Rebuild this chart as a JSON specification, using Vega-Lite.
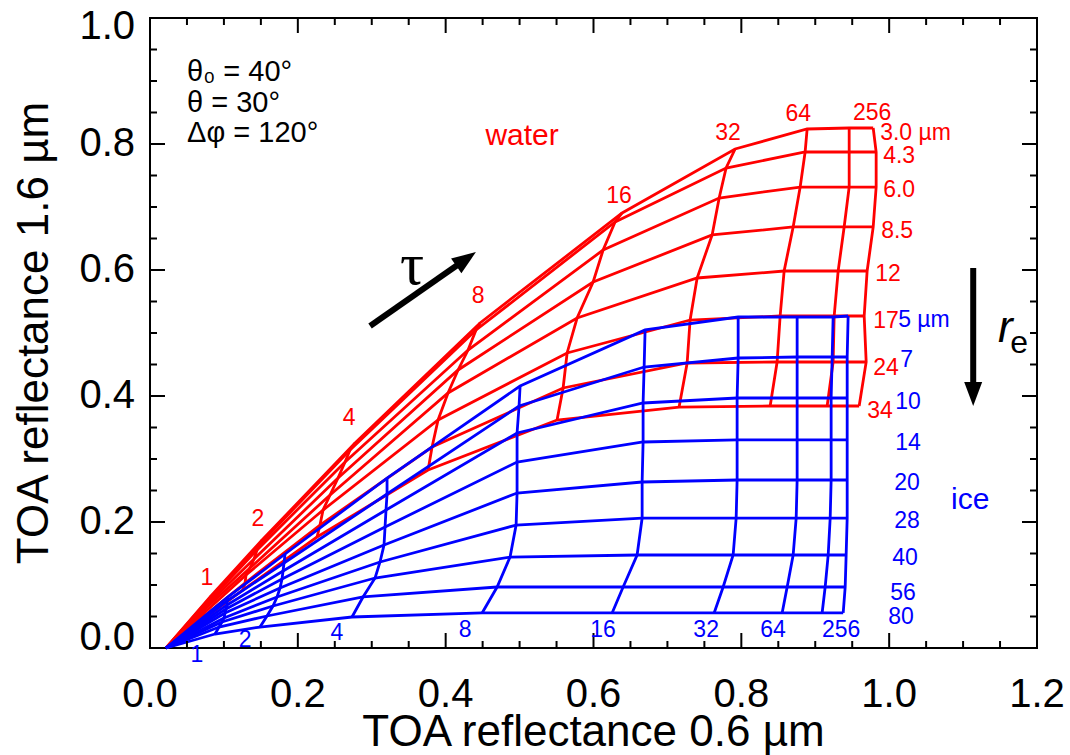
{
"$schema":"https://vega.github.io/schema/vega-lite/v6.json",
"width":887,"height":630,"autosize":"none",
"padding":{"left":150,"top":18,"right":33,"bottom":107},
"background":"white",
"config":{"view":{"stroke":"#000000","strokeWidth":2}},
"datasets":{
"grid":[
{"p":"w","r":3,"t":0,"x":0.0217,"y":0},{"p":"w","r":3,"t":1,"x":0.0825,"y":0.0825},{"p":"w","r":3,"t":2,"x":0.1516,"y":0.1714},{"p":"w","r":3,"t":4,"x":0.2774,"y":0.3254},{"p":"w","r":3,"t":8,"x":0.4465,"y":0.5159},{"p":"w","r":3,"t":16,"x":0.6387,"y":0.6905},{"p":"w","r":3,"t":32,"x":0.7916,"y":0.7921},{"p":"w","r":3,"t":64,"x":0.889,"y":0.8238},{"p":"w","r":3,"t":128,"x":0.9459,"y":0.8254},{"p":"w","r":3,"t":256,"x":0.9784,"y":0.8254},
{"p":"w","r":4.3,"t":0,"x":0.0217,"y":0},{"p":"w","r":4.3,"t":1,"x":0.0812,"y":0.0794},{"p":"w","r":4.3,"t":2,"x":0.1488,"y":0.1651},{"p":"w","r":4.3,"t":4,"x":0.2706,"y":0.3143},{"p":"w","r":4.3,"t":8,"x":0.4411,"y":0.5048},{"p":"w","r":4.3,"t":16,"x":0.6292,"y":0.6762},{"p":"w","r":4.3,"t":32,"x":0.7794,"y":0.7619},{"p":"w","r":4.3,"t":64,"x":0.8863,"y":0.7873},{"p":"w","r":4.3,"t":128,"x":0.9459,"y":0.7873},{"p":"w","r":4.3,"t":256,"x":0.9824,"y":0.7873},
{"p":"w","r":6,"t":0,"x":0.0217,"y":0},{"p":"w","r":6,"t":1,"x":0.0798,"y":0.0746},{"p":"w","r":6,"t":2,"x":0.1448,"y":0.1556},{"p":"w","r":6,"t":4,"x":0.2639,"y":0.2952},{"p":"w","r":6,"t":8,"x":0.4303,"y":0.473},{"p":"w","r":6,"t":16,"x":0.613,"y":0.6317},{"p":"w","r":6,"t":32,"x":0.77,"y":0.7143},{"p":"w","r":6,"t":64,"x":0.8796,"y":0.7317},{"p":"w","r":6,"t":128,"x":0.9459,"y":0.7317},{"p":"w","r":6,"t":256,"x":0.9824,"y":0.7317},
{"p":"w","r":8.5,"t":0,"x":0.0217,"y":0},{"p":"w","r":8.5,"t":1,"x":0.0771,"y":0.0683},{"p":"w","r":8.5,"t":2,"x":0.1407,"y":0.1413},{"p":"w","r":8.5,"t":4,"x":0.2544,"y":0.2698},{"p":"w","r":8.5,"t":8,"x":0.4168,"y":0.4413},{"p":"w","r":8.5,"t":16,"x":0.5995,"y":0.581},{"p":"w","r":8.5,"t":32,"x":0.7605,"y":0.6556},{"p":"w","r":8.5,"t":64,"x":0.8701,"y":0.6683},{"p":"w","r":8.5,"t":128,"x":0.9391,"y":0.6683},{"p":"w","r":8.5,"t":256,"x":0.9784,"y":0.6683},
{"p":"w","r":12,"t":0,"x":0.0217,"y":0},{"p":"w","r":12,"t":1,"x":0.0744,"y":0.0619},{"p":"w","r":12,"t":2,"x":0.1353,"y":0.127},{"p":"w","r":12,"t":4,"x":0.2436,"y":0.2429},{"p":"w","r":12,"t":8,"x":0.4032,"y":0.4048},{"p":"w","r":12,"t":16,"x":0.5778,"y":0.5238},{"p":"w","r":12,"t":32,"x":0.7402,"y":0.5873},{"p":"w","r":12,"t":64,"x":0.8579,"y":0.5984},{"p":"w","r":12,"t":128,"x":0.931,"y":0.5984},{"p":"w","r":12,"t":256,"x":0.9702,"y":0.5984},
{"p":"w","r":17,"t":0,"x":0.0217,"y":0},{"p":"w","r":17,"t":1,"x":0.0731,"y":0.0556},{"p":"w","r":17,"t":2,"x":0.1299,"y":0.1159},{"p":"w","r":17,"t":4,"x":0.2341,"y":0.219},{"p":"w","r":17,"t":8,"x":0.3897,"y":0.3619},{"p":"w","r":17,"t":16,"x":0.5643,"y":0.4683},{"p":"w","r":17,"t":32,"x":0.7307,"y":0.5206},{"p":"w","r":17,"t":64,"x":0.8525,"y":0.527},{"p":"w","r":17,"t":128,"x":0.9256,"y":0.527},{"p":"w","r":17,"t":256,"x":0.9662,"y":0.527},
{"p":"w","r":24,"t":0,"x":0.0217,"y":0},{"p":"w","r":24,"t":1,"x":0.0717,"y":0.0492},{"p":"w","r":24,"t":2,"x":0.1286,"y":0.1032},{"p":"w","r":24,"t":4,"x":0.23,"y":0.1952},{"p":"w","r":24,"t":8,"x":0.3816,"y":0.319},{"p":"w","r":24,"t":16,"x":0.5589,"y":0.4127},{"p":"w","r":24,"t":32,"x":0.7267,"y":0.4524},{"p":"w","r":24,"t":64,"x":0.8484,"y":0.454},{"p":"w","r":24,"t":128,"x":0.9242,"y":0.454},{"p":"w","r":24,"t":256,"x":0.9689,"y":0.454},
{"p":"w","r":34,"t":0,"x":0.0217,"y":0},{"p":"w","r":34,"t":1,"x":0.0704,"y":0.0444},{"p":"w","r":34,"t":2,"x":0.1258,"y":0.0921},{"p":"w","r":34,"t":4,"x":0.226,"y":0.1762},{"p":"w","r":34,"t":8,"x":0.3762,"y":0.2825},{"p":"w","r":34,"t":16,"x":0.5507,"y":0.3619},{"p":"w","r":34,"t":32,"x":0.7158,"y":0.3825},{"p":"w","r":34,"t":64,"x":0.839,"y":0.3841},{"p":"w","r":34,"t":128,"x":0.9161,"y":0.3841},{"p":"w","r":34,"t":256,"x":0.9594,"y":0.3841},
{"p":"i","r":5,"t":0,"x":0.0217,"y":0},{"p":"i","r":5,"t":1,"x":0.1055,"y":0.081},{"p":"i","r":5,"t":2,"x":0.1827,"y":0.1492},{"p":"i","r":5,"t":4,"x":0.3207,"y":0.2698},{"p":"i","r":5,"t":8,"x":0.5007,"y":0.4159},{"p":"i","r":5,"t":16,"x":0.6698,"y":0.5048},{"p":"i","r":5,"t":32,"x":0.7957,"y":0.5254},{"p":"i","r":5,"t":64,"x":0.8755,"y":0.5254},{"p":"i","r":5,"t":128,"x":0.9242,"y":0.5254},{"p":"i","r":5,"t":256,"x":0.9445,"y":0.527},
{"p":"i","r":7,"t":0,"x":0.0217,"y":0},{"p":"i","r":7,"t":1,"x":0.1042,"y":0.0746},{"p":"i","r":7,"t":2,"x":0.1813,"y":0.1349},{"p":"i","r":7,"t":4,"x":0.3207,"y":0.2444},{"p":"i","r":7,"t":8,"x":0.4993,"y":0.3841},{"p":"i","r":7,"t":16,"x":0.6685,"y":0.446},{"p":"i","r":7,"t":32,"x":0.7957,"y":0.4603},{"p":"i","r":7,"t":64,"x":0.8755,"y":0.4619},{"p":"i","r":7,"t":128,"x":0.9229,"y":0.4619},{"p":"i","r":7,"t":256,"x":0.9432,"y":0.4619},
{"p":"i","r":10,"t":0,"x":0.0217,"y":0},{"p":"i","r":10,"t":1,"x":0.1042,"y":0.0683},{"p":"i","r":10,"t":2,"x":0.18,"y":0.1222},{"p":"i","r":10,"t":4,"x":0.3193,"y":0.219},{"p":"i","r":10,"t":8,"x":0.4966,"y":0.3413},{"p":"i","r":10,"t":16,"x":0.6671,"y":0.3889},{"p":"i","r":10,"t":32,"x":0.7943,"y":0.3968},{"p":"i","r":10,"t":64,"x":0.8755,"y":0.3968},{"p":"i","r":10,"t":128,"x":0.9215,"y":0.3968},{"p":"i","r":10,"t":256,"x":0.9432,"y":0.3968},
{"p":"i","r":14,"t":0,"x":0.0217,"y":0},{"p":"i","r":14,"t":1,"x":0.1028,"y":0.0619},{"p":"i","r":14,"t":2,"x":0.1786,"y":0.1095},{"p":"i","r":14,"t":4,"x":0.318,"y":0.1921},{"p":"i","r":14,"t":8,"x":0.4966,"y":0.2952},{"p":"i","r":14,"t":16,"x":0.6671,"y":0.327},{"p":"i","r":14,"t":32,"x":0.7943,"y":0.3302},{"p":"i","r":14,"t":64,"x":0.8755,"y":0.3302},{"p":"i","r":14,"t":128,"x":0.9215,"y":0.3302},{"p":"i","r":14,"t":256,"x":0.9432,"y":0.3302},
{"p":"i","r":20,"t":0,"x":0.0217,"y":0},{"p":"i","r":20,"t":1,"x":0.1015,"y":0.0556},{"p":"i","r":20,"t":2,"x":0.1759,"y":0.0952},{"p":"i","r":20,"t":4,"x":0.3166,"y":0.1635},{"p":"i","r":20,"t":8,"x":0.4966,"y":0.246},{"p":"i","r":20,"t":16,"x":0.6658,"y":0.2635},{"p":"i","r":20,"t":32,"x":0.7943,"y":0.2667},{"p":"i","r":20,"t":64,"x":0.8755,"y":0.2667},{"p":"i","r":20,"t":128,"x":0.9215,"y":0.2667},{"p":"i","r":20,"t":256,"x":0.9432,"y":0.2667},
{"p":"i","r":28,"t":0,"x":0.0217,"y":0},{"p":"i","r":28,"t":1,"x":0.1001,"y":0.0476},{"p":"i","r":28,"t":2,"x":0.1719,"y":0.081},{"p":"i","r":28,"t":4,"x":0.3112,"y":0.1365},{"p":"i","r":28,"t":8,"x":0.4953,"y":0.1952},{"p":"i","r":28,"t":16,"x":0.6658,"y":0.2063},{"p":"i","r":28,"t":32,"x":0.793,"y":0.2063},{"p":"i","r":28,"t":64,"x":0.8742,"y":0.2063},{"p":"i","r":28,"t":128,"x":0.9202,"y":0.2063},{"p":"i","r":28,"t":256,"x":0.9432,"y":0.2063},
{"p":"i","r":40,"t":0,"x":0.0217,"y":0},{"p":"i","r":40,"t":1,"x":0.0974,"y":0.0413},{"p":"i","r":40,"t":2,"x":0.1664,"y":0.0667},{"p":"i","r":40,"t":4,"x":0.3045,"y":0.1111},{"p":"i","r":40,"t":8,"x":0.4871,"y":0.1444},{"p":"i","r":40,"t":16,"x":0.659,"y":0.1476},{"p":"i","r":40,"t":32,"x":0.7889,"y":0.1476},{"p":"i","r":40,"t":64,"x":0.8701,"y":0.1476},{"p":"i","r":40,"t":128,"x":0.9175,"y":0.1476},{"p":"i","r":40,"t":256,"x":0.9418,"y":0.1476},
{"p":"i","r":56,"t":0,"x":0.0217,"y":0},{"p":"i","r":56,"t":1,"x":0.0934,"y":0.0333},{"p":"i","r":56,"t":2,"x":0.1583,"y":0.0508},{"p":"i","r":56,"t":4,"x":0.2882,"y":0.081},{"p":"i","r":56,"t":8,"x":0.4696,"y":0.0968},{"p":"i","r":56,"t":16,"x":0.6401,"y":0.0968},{"p":"i","r":56,"t":32,"x":0.7754,"y":0.0968},{"p":"i","r":56,"t":64,"x":0.862,"y":0.0968},{"p":"i","r":56,"t":128,"x":0.9134,"y":0.0968},{"p":"i","r":56,"t":256,"x":0.9405,"y":0.0968},
{"p":"i","r":80,"t":0,"x":0.0217,"y":0},{"p":"i","r":80,"t":1,"x":0.088,"y":0.0222},{"p":"i","r":80,"t":2,"x":0.1488,"y":0.0333},{"p":"i","r":80,"t":4,"x":0.2733,"y":0.0492},{"p":"i","r":80,"t":8,"x":0.4493,"y":0.0556},{"p":"i","r":80,"t":16,"x":0.6252,"y":0.0556},{"p":"i","r":80,"t":32,"x":0.7632,"y":0.0556},{"p":"i","r":80,"t":64,"x":0.8552,"y":0.0556},{"p":"i","r":80,"t":128,"x":0.9093,"y":0.0556},{"p":"i","r":80,"t":256,"x":0.9378,"y":0.0556}
],
"xt":[
{"v":0,"k":"M"},{"v":0.05,"k":"m"},{"v":0.1,"k":"m"},{"v":0.15,"k":"m"},{"v":0.2,"k":"M"},{"v":0.25,"k":"m"},{"v":0.3,"k":"m"},{"v":0.35,"k":"m"},{"v":0.4,"k":"M"},{"v":0.45,"k":"m"},{"v":0.5,"k":"m"},{"v":0.55,"k":"m"},{"v":0.6,"k":"M"},{"v":0.65,"k":"m"},{"v":0.7,"k":"m"},{"v":0.75,"k":"m"},{"v":0.8,"k":"M"},{"v":0.85,"k":"m"},{"v":0.9,"k":"m"},{"v":0.95,"k":"m"},{"v":1,"k":"M"},{"v":1.05,"k":"m"},{"v":1.1,"k":"m"},{"v":1.15,"k":"m"},{"v":1.2,"k":"M"}
],
"yt":[
{"v":0,"k":"M"},{"v":0.05,"k":"m"},{"v":0.1,"k":"m"},{"v":0.15,"k":"m"},{"v":0.2,"k":"M"},{"v":0.25,"k":"m"},{"v":0.3,"k":"m"},{"v":0.35,"k":"m"},{"v":0.4,"k":"M"},{"v":0.45,"k":"m"},{"v":0.5,"k":"m"},{"v":0.55,"k":"m"},{"v":0.6,"k":"M"},{"v":0.65,"k":"m"},{"v":0.7,"k":"m"},{"v":0.75,"k":"m"},{"v":0.8,"k":"M"},{"v":0.85,"k":"m"},{"v":0.9,"k":"m"},{"v":0.95,"k":"m"},{"v":1,"k":"M"}
],
"txt":[
{"g":"tw","s":"1","x":0.0771,"y":0.1111},{"g":"tw","s":"2","x":0.1461,"y":0.2048},{"g":"tw","s":"4","x":0.2693,"y":0.3651},{"g":"tw","s":"8","x":0.4438,"y":0.5587},{"g":"tw","s":"16","x":0.6346,"y":0.7175},{"g":"tw","s":"32","x":0.7821,"y":0.8175},{"g":"tw","s":"64","x":0.8769,"y":0.8476},{"g":"tw","s":"256","x":0.977,"y":0.8492},
{"g":"rw","s":"3.0 µm","x":0.9878,"y":0.8175},{"g":"rw","s":"4.3","x":0.9919,"y":0.781},{"g":"rw","s":"6.0","x":0.9919,"y":0.727},{"g":"rw","s":"8.5","x":0.9892,"y":0.6619},{"g":"rw","s":"12","x":0.9811,"y":0.5937},{"g":"rw","s":"17","x":0.9784,"y":0.519},{"g":"rw","s":"24","x":0.9784,"y":0.4444},{"g":"rw","s":"34","x":0.9702,"y":0.3762},
{"g":"ri","s":"5 µm","x":1.0122,"y":0.5206},{"g":"ri","s":"7","x":1.0149,"y":0.4571},{"g":"ri","s":"10","x":1.0081,"y":0.3905},{"g":"ri","s":"14","x":1.0081,"y":0.3254},{"g":"ri","s":"20","x":1.0068,"y":0.2619},{"g":"ri","s":"28","x":1.0068,"y":0.2016},{"g":"ri","s":"40","x":1.0041,"y":0.1429},{"g":"ri","s":"56","x":1.0014,"y":0.0873},{"g":"ri","s":"80","x":0.9986,"y":0.0492},
{"g":"ti","s":"1","x":0.0636,"y":-0.0111},{"g":"ti","s":"2","x":0.1286,"y":0.0127},{"g":"ti","s":"4","x":0.253,"y":0.0238},{"g":"ti","s":"8","x":0.4263,"y":0.0286},{"g":"ti","s":"16","x":0.613,"y":0.0286},{"g":"ti","s":"32","x":0.7524,"y":0.0286},{"g":"ti","s":"64","x":0.843,"y":0.0286},{"g":"ti","s":"256","x":0.935,"y":0.0286},
{"g":"ann","s":"θ₀ = 40°","x":0.0501,"y":0.9143},{"g":"ann","s":"θ = 30°","x":0.0501,"y":0.8651},{"g":"ann","s":"Δφ = 120°","x":0.0501,"y":0.8175},
{"g":"water","s":"water","x":0.5034,"y":0.8127},
{"g":"ice","s":"ice","x":1.1096,"y":0.2349},
{"g":"tau","s":"τ","x":0.3545,"y":0.6063},
{"g":"r","s":"r","x":1.157,"y":0.5063},
{"g":"e","s":"e","x":1.1759,"y":0.4841},
{"g":"xtitle","s":"TOA reflectance 0.6 µm","x":0.6,"y":0},
{"g":"ytitle","s":"TOA reflectance 1.6 µm","x":0,"y":0.5}
],
"arr":[
{"a":"tau","x":0.2977,"y":0.5111,"x2":0.4276,"y2":0.6175},
{"a":"re","x":1.1137,"y":0.6032,"x2":1.1137,"y2":0.4032}
]
},
"layer":[
{"data":{"name":"grid"},"transform":[{"filter":"datum.p=='w'"}],
 "mark":{"type":"line","color":"#ff0000","strokeWidth":2.8},
 "encoding":{
  "x":{"field":"x","type":"quantitative","scale":{"domain":[0,1.2],"nice":false,"zero":false},"axis":null},
  "y":{"field":"y","type":"quantitative","scale":{"domain":[0,1],"nice":false,"zero":false},"axis":null},
  "detail":{"field":"r","type":"nominal"},
  "order":{"field":"t","type":"quantitative"}}},
{"data":{"name":"grid"},"transform":[{"filter":"datum.p=='w' && datum.t>0"}],
 "mark":{"type":"line","color":"#ff0000","strokeWidth":2.8},
 "encoding":{
  "x":{"field":"x","type":"quantitative","scale":{"domain":[0,1.2],"nice":false,"zero":false},"axis":null},
  "y":{"field":"y","type":"quantitative","scale":{"domain":[0,1],"nice":false,"zero":false},"axis":null},
  "detail":{"field":"t","type":"nominal"},
  "order":{"field":"r","type":"quantitative"}}},
{"data":{"name":"grid"},"transform":[{"filter":"datum.p=='i'"}],
 "mark":{"type":"line","color":"#0000ff","strokeWidth":2.8},
 "encoding":{
  "x":{"field":"x","type":"quantitative","scale":{"domain":[0,1.2],"nice":false,"zero":false},"axis":null},
  "y":{"field":"y","type":"quantitative","scale":{"domain":[0,1],"nice":false,"zero":false},"axis":null},
  "detail":{"field":"r","type":"nominal"},
  "order":{"field":"t","type":"quantitative"}}},
{"data":{"name":"grid"},"transform":[{"filter":"datum.p=='i' && datum.t>0"}],
 "mark":{"type":"line","color":"#0000ff","strokeWidth":2.8},
 "encoding":{
  "x":{"field":"x","type":"quantitative","scale":{"domain":[0,1.2],"nice":false,"zero":false},"axis":null},
  "y":{"field":"y","type":"quantitative","scale":{"domain":[0,1],"nice":false,"zero":false},"axis":null},
  "detail":{"field":"t","type":"nominal"},
  "order":{"field":"r","type":"quantitative"}}},
{"data":{"name":"xt"},
 "mark":{"type":"tick","orient":"vertical","thickness":2,"color":"#000000","opacity":1,"clip":true},
 "encoding":{"x":{"field":"v","type":"quantitative","scale":{"domain":[0,1.2],"nice":false,"zero":false},"axis":null},"y":{"datum":0,"type":"quantitative","scale":{"domain":[0,1],"nice":false,"zero":false},"axis":null},"size":{"field":"k","type":"nominal","scale":{"domain":["M","m"],"range":[30,14]},"legend":null}}},
{"data":{"name":"xt"},
 "mark":{"type":"tick","orient":"vertical","thickness":2,"color":"#000000","opacity":1,"clip":true},
 "encoding":{"x":{"field":"v","type":"quantitative","scale":{"domain":[0,1.2],"nice":false,"zero":false},"axis":null},"y":{"datum":1,"type":"quantitative","scale":{"domain":[0,1],"nice":false,"zero":false},"axis":null},"size":{"field":"k","type":"nominal","scale":{"domain":["M","m"],"range":[30,14]},"legend":null}}},
{"data":{"name":"yt"},
 "mark":{"type":"tick","orient":"horizontal","thickness":2,"color":"#000000","opacity":1,"clip":true},
 "encoding":{"y":{"field":"v","type":"quantitative","scale":{"domain":[0,1],"nice":false,"zero":false},"axis":null},"x":{"datum":0,"type":"quantitative","scale":{"domain":[0,1.2],"nice":false,"zero":false},"axis":null},"size":{"field":"k","type":"nominal","scale":{"domain":["M","m"],"range":[30,14]},"legend":null}}},
{"data":{"name":"yt"},
 "mark":{"type":"tick","orient":"horizontal","thickness":2,"color":"#000000","opacity":1,"clip":true},
 "encoding":{"y":{"field":"v","type":"quantitative","scale":{"domain":[0,1],"nice":false,"zero":false},"axis":null},"x":{"datum":1.2,"type":"quantitative","scale":{"domain":[0,1.2],"nice":false,"zero":false},"axis":null},"size":{"field":"k","type":"nominal","scale":{"domain":["M","m"],"range":[30,14]},"legend":null}}},
{"data":{"name":"xt"},"transform":[{"filter":"datum.k=='M'"}],
 "mark":{"type":"text","color":"#000000","font":"Liberation Sans","fontSize":40,"align":"center","baseline":"alphabetic","dy":59},
 "encoding":{"x":{"field":"v","type":"quantitative","scale":{"domain":[0,1.2],"nice":false,"zero":false},"axis":null},"y":{"datum":0,"type":"quantitative","scale":{"domain":[0,1],"nice":false,"zero":false},"axis":null},"text":{"field":"v","type":"quantitative","format":".1f"}}},
{"data":{"name":"yt"},"transform":[{"filter":"datum.k=='M' && datum.v>0 && datum.v<1"}],
 "mark":{"type":"text","color":"#000000","font":"Liberation Sans","fontSize":40,"align":"right","baseline":"middle","dx":-15},
 "encoding":{"y":{"field":"v","type":"quantitative","scale":{"domain":[0,1],"nice":false,"zero":false},"axis":null},"x":{"datum":0,"type":"quantitative","scale":{"domain":[0,1.2],"nice":false,"zero":false},"axis":null},"text":{"field":"v","type":"quantitative","format":".1f"}}},
{"data":{"name":"yt"},"transform":[{"filter":"datum.v==1"}],
 "mark":{"type":"text","color":"#000000","font":"Liberation Sans","fontSize":40,"align":"right","baseline":"middle","dx":-15,"dy":9},
 "encoding":{"y":{"field":"v","type":"quantitative","scale":{"domain":[0,1],"nice":false,"zero":false},"axis":null},"x":{"datum":0,"type":"quantitative","scale":{"domain":[0,1.2],"nice":false,"zero":false},"axis":null},"text":{"field":"v","type":"quantitative","format":".1f"}}},
{"data":{"name":"yt"},"transform":[{"filter":"datum.v==0"}],
 "mark":{"type":"text","color":"#000000","font":"Liberation Sans","fontSize":40,"align":"right","baseline":"middle","dx":-15,"dy":-10},
 "encoding":{"y":{"field":"v","type":"quantitative","scale":{"domain":[0,1],"nice":false,"zero":false},"axis":null},"x":{"datum":0,"type":"quantitative","scale":{"domain":[0,1.2],"nice":false,"zero":false},"axis":null},"text":{"field":"v","type":"quantitative","format":".1f"}}},
{"data":{"name":"txt"},"transform":[{"filter":"datum.g=='xtitle'"}],
 "mark":{"type":"text","color":"#000000","font":"Liberation Sans","fontSize":44,"align":"center","baseline":"alphabetic","dy":98},
 "encoding":{"x":{"field":"x","type":"quantitative","scale":{"domain":[0,1.2],"nice":false,"zero":false},"axis":null},"y":{"field":"y","type":"quantitative","scale":{"domain":[0,1],"nice":false,"zero":false},"axis":null},"text":{"field":"s"}}},
{"data":{"name":"txt"},"transform":[{"filter":"datum.g=='ytitle'"}],
 "mark":{"type":"text","color":"#000000","font":"Liberation Sans","fontSize":44,"align":"center","baseline":"alphabetic","angle":270,"dy":-102},
 "encoding":{"x":{"field":"x","type":"quantitative","scale":{"domain":[0,1.2],"nice":false,"zero":false},"axis":null},"y":{"field":"y","type":"quantitative","scale":{"domain":[0,1],"nice":false,"zero":false},"axis":null},"text":{"field":"s"}}},
{"data":{"name":"txt"},"transform":[{"filter":"datum.g=='tw'"}],
 "mark":{"type":"text","color":"#ff0000","font":"Liberation Sans","fontSize":23,"align":"center","baseline":"middle"},
 "encoding":{"x":{"field":"x","type":"quantitative","scale":{"domain":[0,1.2],"nice":false,"zero":false},"axis":null},"y":{"field":"y","type":"quantitative","scale":{"domain":[0,1],"nice":false,"zero":false},"axis":null},"text":{"field":"s"}}},
{"data":{"name":"txt"},"transform":[{"filter":"datum.g=='rw'"}],
 "mark":{"type":"text","color":"#ff0000","font":"Liberation Sans","fontSize":23,"align":"left","baseline":"middle"},
 "encoding":{"x":{"field":"x","type":"quantitative","scale":{"domain":[0,1.2],"nice":false,"zero":false},"axis":null},"y":{"field":"y","type":"quantitative","scale":{"domain":[0,1],"nice":false,"zero":false},"axis":null},"text":{"field":"s"}}},
{"data":{"name":"txt"},"transform":[{"filter":"datum.g=='ri'"}],
 "mark":{"type":"text","color":"#0000ff","font":"Liberation Sans","fontSize":23,"align":"left","baseline":"middle"},
 "encoding":{"x":{"field":"x","type":"quantitative","scale":{"domain":[0,1.2],"nice":false,"zero":false},"axis":null},"y":{"field":"y","type":"quantitative","scale":{"domain":[0,1],"nice":false,"zero":false},"axis":null},"text":{"field":"s"}}},
{"data":{"name":"txt"},"transform":[{"filter":"datum.g=='ti'"}],
 "mark":{"type":"text","color":"#0000ff","font":"Liberation Sans","fontSize":23,"align":"center","baseline":"middle"},
 "encoding":{"x":{"field":"x","type":"quantitative","scale":{"domain":[0,1.2],"nice":false,"zero":false},"axis":null},"y":{"field":"y","type":"quantitative","scale":{"domain":[0,1],"nice":false,"zero":false},"axis":null},"text":{"field":"s"}}},
{"data":{"name":"txt"},"transform":[{"filter":"datum.g=='ann'"}],
 "mark":{"type":"text","color":"#000000","font":"Liberation Sans","fontSize":29,"align":"left","baseline":"middle"},
 "encoding":{"x":{"field":"x","type":"quantitative","scale":{"domain":[0,1.2],"nice":false,"zero":false},"axis":null},"y":{"field":"y","type":"quantitative","scale":{"domain":[0,1],"nice":false,"zero":false},"axis":null},"text":{"field":"s"}}},
{"data":{"name":"txt"},"transform":[{"filter":"datum.g=='water'"}],
 "mark":{"type":"text","color":"#ff0000","font":"Liberation Sans","fontSize":30,"align":"center","baseline":"middle"},
 "encoding":{"x":{"field":"x","type":"quantitative","scale":{"domain":[0,1.2],"nice":false,"zero":false},"axis":null},"y":{"field":"y","type":"quantitative","scale":{"domain":[0,1],"nice":false,"zero":false},"axis":null},"text":{"field":"s"}}},
{"data":{"name":"txt"},"transform":[{"filter":"datum.g=='ice'"}],
 "mark":{"type":"text","color":"#0000ff","font":"Liberation Sans","fontSize":30,"align":"center","baseline":"middle"},
 "encoding":{"x":{"field":"x","type":"quantitative","scale":{"domain":[0,1.2],"nice":false,"zero":false},"axis":null},"y":{"field":"y","type":"quantitative","scale":{"domain":[0,1],"nice":false,"zero":false},"axis":null},"text":{"field":"s"}}},
{"data":{"name":"txt"},"transform":[{"filter":"datum.g=='tau'"}],
 "mark":{"type":"text","color":"#000000","font":"Liberation Serif","fontSize":60,"align":"center","baseline":"middle"},
 "encoding":{"x":{"field":"x","type":"quantitative","scale":{"domain":[0,1.2],"nice":false,"zero":false},"axis":null},"y":{"field":"y","type":"quantitative","scale":{"domain":[0,1],"nice":false,"zero":false},"axis":null},"text":{"field":"s"}}},
{"data":{"name":"txt"},"transform":[{"filter":"datum.g=='r'"}],
 "mark":{"type":"text","color":"#000000","font":"Liberation Sans","fontStyle":"italic","fontSize":44,"align":"center","baseline":"middle"},
 "encoding":{"x":{"field":"x","type":"quantitative","scale":{"domain":[0,1.2],"nice":false,"zero":false},"axis":null},"y":{"field":"y","type":"quantitative","scale":{"domain":[0,1],"nice":false,"zero":false},"axis":null},"text":{"field":"s"}}},
{"data":{"name":"txt"},"transform":[{"filter":"datum.g=='e'"}],
 "mark":{"type":"text","color":"#000000","font":"Liberation Sans","fontSize":32,"align":"center","baseline":"middle"},
 "encoding":{"x":{"field":"x","type":"quantitative","scale":{"domain":[0,1.2],"nice":false,"zero":false},"axis":null},"y":{"field":"y","type":"quantitative","scale":{"domain":[0,1],"nice":false,"zero":false},"axis":null},"text":{"field":"s"}}},
{"data":{"name":"arr"},
 "mark":{"type":"rule","color":"#000000","strokeWidth":6},
 "encoding":{"x":{"field":"x","type":"quantitative","scale":{"domain":[0,1.2],"nice":false,"zero":false},"axis":null},"y":{"field":"y","type":"quantitative","scale":{"domain":[0,1],"nice":false,"zero":false},"axis":null},"x2":{"field":"x2"},"y2":{"field":"y2"}}},
{"data":{"name":"arr"},"transform":[{"filter":"datum.a=='tau'"}],
 "mark":{"type":"point","shape":"M0,-1L0.75,1L-0.75,1Z","filled":true,"color":"#000000","opacity":1,"size":576,"angle":55},
 "encoding":{"x":{"field":"x2","type":"quantitative","scale":{"domain":[0,1.2],"nice":false,"zero":false},"axis":null},"y":{"field":"y2","type":"quantitative","scale":{"domain":[0,1],"nice":false,"zero":false},"axis":null}}},
{"data":{"name":"arr"},"transform":[{"filter":"datum.a=='re'"}],
 "mark":{"type":"point","shape":"M0,-1L0.75,1L-0.75,1Z","filled":true,"color":"#000000","opacity":1,"size":576,"angle":180},
 "encoding":{"x":{"field":"x2","type":"quantitative","scale":{"domain":[0,1.2],"nice":false,"zero":false},"axis":null},"y":{"field":"y2","type":"quantitative","scale":{"domain":[0,1],"nice":false,"zero":false},"axis":null}}}
]
}
